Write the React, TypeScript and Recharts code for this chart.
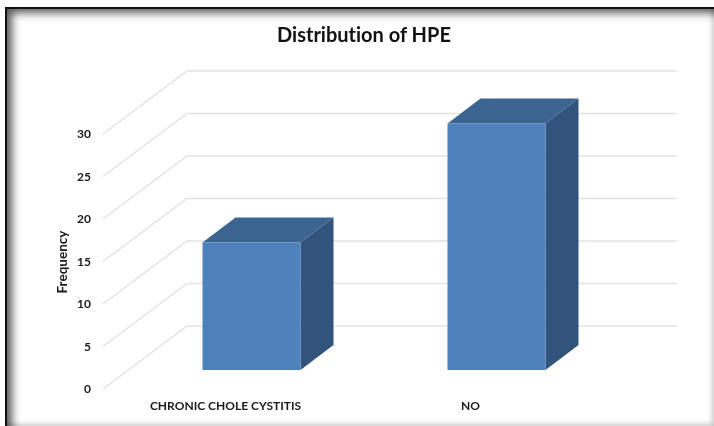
import { BarChart, Bar, XAxis, YAxis, CartesianGrid } from 'recharts';

const categories = ['CHRONIC CHOLE CYSTITIS', 'NO'];
const frequency = [15, 29];
const yTicks = [0, 5, 10, 15, 20, 25, 30];

const chartData = categories.map((name, i) => ({ name, frequency: frequency[i] }));

const FONT = 'Lato, "Open Sans", sans-serif';

// fake 3d: back wall is shifted from the front axis plane
const WALL_DX = 84;
const WALL_DY = 63;
// bars stand part way into the floor
const BAR_DX = 25.5;
const BAR_DY = 19;
const DEPTH_DX = 33;
const DEPTH_DY = 25;

const GridLine = ({ x1, y1, x2 }: any) => (
  <path
    d={`M${x1},${y1} L${x1 + WALL_DX},${y1 - WALL_DY} L${x2 + WALL_DX},${y1 - WALL_DY}`}
    fill="none"
    stroke="#e2e2e2"
    strokeWidth={1.4}
  />
);

const Bar3D = ({ x, y, width, height }: any) => {
  const left = x + BAR_DX;
  const top = y - BAR_DY;
  const right = left + width;
  const bottom = top + height;
  return (
    <g>
      <polygon
        points={`${left},${top} ${left + DEPTH_DX},${top - DEPTH_DY} ${right + DEPTH_DX},${top - DEPTH_DY} ${right},${top}`}
        fill="#3c6490"
      />
      <polygon
        points={`${right},${top} ${right + DEPTH_DX},${top - DEPTH_DY} ${right + DEPTH_DX},${bottom - DEPTH_DY} ${right},${bottom}`}
        fill="#32547c"
      />
      <rect x={left} y={top} width={width} height={height} fill="#4f81bd" />
    </g>
  );
};

export default function App() {
  return (
    <div
      style={{
        position: 'absolute',
        left: 0,
        top: 0,
        width: 714,
        height: 426,
        background: '#fff',
        overflow: 'hidden',
      }}
    >
      <div style={{ filter: 'blur(0.4px)' }}>
        <BarChart
          width={714}
          height={426}
          data={chartData}
          margin={{ top: 134, right: 121, bottom: 7, left: 43 }}
        >
          <CartesianGrid vertical={false} horizontal={<GridLine />} />
          <XAxis
            dataKey="name"
            axisLine={false}
            tickLine={false}
            interval={0}
            tickMargin={6}
            tick={{ fill: '#1a1a1a', fontSize: 12, fontWeight: 700, fontFamily: FONT }}
          />
          <YAxis
            width={60}
            domain={[0, 30]}
            ticks={yTicks}
            axisLine={false}
            tickLine={false}
            tickMargin={6}
            tick={{ fill: '#1a1a1a', fontSize: 12, fontWeight: 700, fontFamily: FONT }}
            label={{
              value: 'Frequency',
              angle: -90,
              position: 'insideLeft',
              dx: 14,
              dy: 32,
              style: { fill: '#1a1a1a', fontSize: 13.5, fontWeight: 700, fontFamily: FONT },
            }}
          />
          <Bar dataKey="frequency" barSize={98} shape={<Bar3D />} isAnimationActive={false} />
          <text
            x={364}
            y={42}
            textAnchor="middle"
            fill="#111"
            fontSize={20}
            fontWeight={700}
            fontFamily={FONT}
            style={{ fontVariantLigatures: 'none' }}
          >
            Distribution of HPE
          </text>
        </BarChart>
      </div>
      {/* picture frame with inner shadow */}
      <div
        style={{
          position: 'absolute',
          left: 5,
          top: 7,
          right: 0,
          bottom: 0,
          borderLeft: '2px solid #111',
          borderTop: '2px solid #111',
          boxShadow:
            'inset 8px 7px 9px -3px rgba(0,0,0,0.65), inset -5px -5px 5px -3px rgba(0,0,0,0.22)',
          pointerEvents: 'none',
        }}
      />
    </div>
  );
}
